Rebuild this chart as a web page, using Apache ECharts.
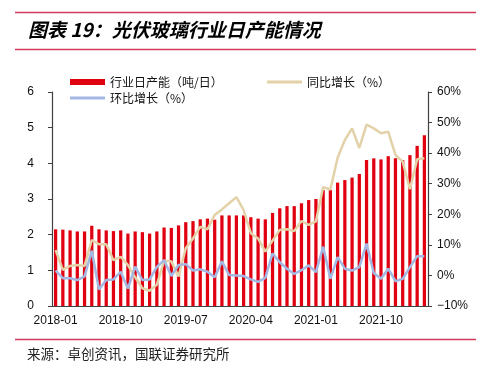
<!DOCTYPE html>
<html>
<head>
<meta charset="utf-8">
<script src="https://cdn.jsdelivr.net/npm/echarts@6/dist/echarts.min.js"></script>
<style>
html,body{margin:0;padding:0;background:#fff;}
#main{width:490px;height:371px;}
</style>
</head>
<body>
<div id="main"></div>
<script>
const months = [
  '2018-01','2018-02','2018-03','2018-04','2018-05','2018-06','2018-07','2018-08','2018-09','2018-10','2018-11','2018-12',
  '2019-01','2019-02','2019-03','2019-04','2019-05','2019-06','2019-07','2019-08','2019-09','2019-10','2019-11','2019-12',
  '2020-01','2020-02','2020-03','2020-04','2020-05','2020-06','2020-07','2020-08','2020-09','2020-10','2020-11','2020-12',
  '2021-01','2021-02','2021-03','2021-04','2021-05','2021-06','2021-07','2021-08','2021-09','2021-10','2021-11','2021-12',
  '2022-01','2022-02','2022-03','2022-04'
];
const dailyCapacity = [
  2.15,2.14,2.12,2.09,2.09,2.25,2.15,2.12,2.10,2.12,2.03,2.09,
  2.07,2.03,2.09,2.20,2.19,2.26,2.35,2.38,2.43,2.45,2.42,2.54,
  2.54,2.54,2.54,2.49,2.45,2.43,2.61,2.74,2.80,2.80,2.88,2.97,
  3.00,3.25,3.25,3.46,3.53,3.60,3.70,4.09,4.14,4.11,4.20,4.14,
  4.09,4.23,4.49,4.79
];
const yoyGrowth = [
  8.3,1.8,3.1,3.4,3.1,11.6,10.2,10.2,5.0,6.1,3.4,-0.6,
  -4.2,-5.0,-3.0,4.8,4.6,-0.3,8.9,12.1,15.9,15.1,19.8,21.6,
  23.6,25.6,21.4,13.8,12.1,7.8,11.4,14.9,15.1,14.5,17.8,16.5,
  17.7,28.9,28.1,38.5,44.3,48.1,41.7,49.3,48.1,46.5,47.0,39.4,
  37.2,28.2,38.0,38.3
];
const momGrowth = [
  1.6,-0.9,-0.9,-1.5,-0.3,8.1,-4.6,-1.5,-1.3,1.2,-4.3,2.9,
  -1.5,-1.3,2.8,5.0,-0.2,3.4,3.7,1.6,2.0,1.2,-0.6,4.6,
  0.1,0.0,-0.2,-1.3,-2.1,-0.8,7.2,4.3,2.2,0.5,1.7,3.3,
  1.1,9.4,-1.1,6.0,2.2,1.6,2.7,10.4,0.8,-1.1,2.2,-1.9,
  -1.1,2.7,6.3,6.3
];
const leftTicks = {min: 0, max: 6, interval: 1};
const rightTicks = {min: -10, max: 60, interval: 10};
const seriesNames = ['行业日产能（吨/日）', '环比增长（%）', '同比增长（%）'];
const titleText = '图表 19：光伏玻璃行业日产能情况';
const sourceText = '来源：卓创资讯，国联证券研究所';

const RED = '#E00010', BEIGE = '#E3D1A8', BLUE = '#A3B8E3', AXIS = '#404040';
const lineCol = '#D23A5C';
const fontLatin = 'Arial, "Liberation Sans", sans-serif';
const fontCJK = '"Noto Sans CJK SC", sans-serif';

const chart = echarts.init(document.getElementById('main'), null, {renderer: 'canvas'});
const legendBase = {
  orient: 'vertical', icon: 'rect', itemWidth: 35, selectedMode: false,
  textStyle: {fontFamily: fontCJK, fontSize: 12, color: '#111', lineHeight: 14}
};
chart.setOption({
  animation: false,
  backgroundColor: '#fff',
  grid: {left: 52, right: 62, top: 92, bottom: 65, containLabel: false},
  legend: [
    Object.assign({}, legendBase, {data: [seriesNames[0]], left: 65, top: 70, itemHeight: 6}),
    Object.assign({}, legendBase, {data: [seriesNames[1]], left: 65, top: 86, itemHeight: 3}),
    Object.assign({}, legendBase, {data: [seriesNames[2]], left: 262, top: 70, itemHeight: 3})
  ],
  xAxis: {
    type: 'category', data: months, boundaryGap: true,
    axisLine: {lineStyle: {color: AXIS, width: 1.2}},
    axisTick: {length: 4, interval: 8, lineStyle: {color: AXIS}},
    axisLabel: {interval: 8, margin: 9, fontFamily: fontLatin, fontSize: 12, color: '#111'}
  },
  yAxis: [
    {
      type: 'value', min: leftTicks.min, max: leftTicks.max, interval: leftTicks.interval,
      splitLine: {show: false},
      axisLine: {show: true, lineStyle: {color: AXIS, width: 1.2}},
      axisTick: {show: true, length: 4, lineStyle: {color: AXIS}},
      axisLabel: {margin: 18, fontFamily: fontLatin, fontSize: 12, color: '#111'}
    },
    {
      type: 'value', position: 'right', min: rightTicks.min, max: rightTicks.max, interval: rightTicks.interval,
      splitLine: {show: false},
      axisLine: {show: true, lineStyle: {color: AXIS, width: 1.2}},
      axisTick: {show: true, length: 4, lineStyle: {color: AXIS}},
      axisLabel: {margin: 9, fontFamily: fontLatin, fontSize: 12, color: '#111',
        formatter: v => (v < 0 ? '\u2212' + Math.abs(v) : v) + '%'}
    }
  ],
  series: [
    {name: seriesNames[0], type: 'bar', data: dailyCapacity, yAxisIndex: 0,
     barWidth: '45%', itemStyle: {color: RED}},
    {name: seriesNames[2], type: 'line', data: yoyGrowth, yAxisIndex: 1,
     symbol: 'none', lineStyle: {color: BEIGE, width: 2.5}, itemStyle: {color: BEIGE}},
    {name: seriesNames[1], type: 'line', data: momGrowth, yAxisIndex: 1,
     symbol: 'none', lineStyle: {color: BLUE, width: 2.5}, itemStyle: {color: BLUE}}
  ],
  graphic: [
    {type: 'line', shape: {x1: 15, y1: 12.5, x2: 476, y2: 12.5}, style: {stroke: lineCol, lineWidth: 1.5}},
    {type: 'line', shape: {x1: 15, y1: 49.5, x2: 476, y2: 49.5}, style: {stroke: lineCol, lineWidth: 1.5}},
    {type: 'line', shape: {x1: 15, y1: 339.5, x2: 476, y2: 339.5}, style: {stroke: lineCol, lineWidth: 1.5}},
    {type: 'text', left: 28, top: 20, style: {text: titleText, fill: '#000',
      font: 'italic bold 19px "Noto Sans CJK SC", Arial, sans-serif'}},
    {type: 'text', left: 27, top: 347, style: {text: sourceText, fill: '#222',
      font: '13.5px "Noto Sans CJK SC", sans-serif'}}
  ]
});
</script>
</body>
</html>
